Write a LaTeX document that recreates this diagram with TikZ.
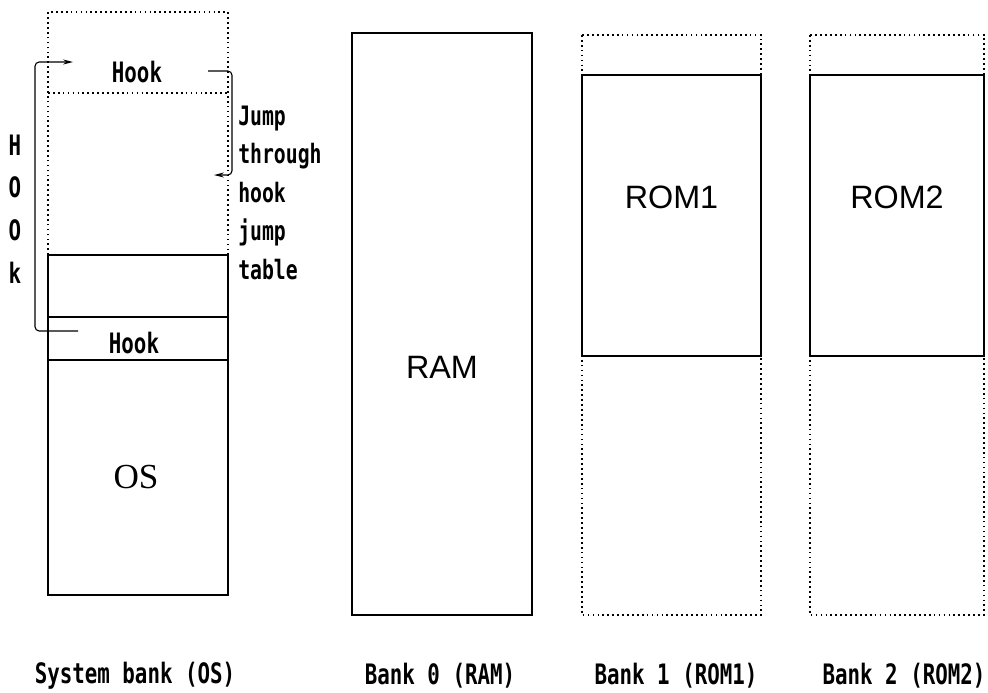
\documentclass[tikz,border=0pt]{standalone}
\usepackage{fontspec}
\setmainfont{Liberation Sans}
\newfontfamily\gothic[FakeStretch=0.74]{DejaVu Sans Mono}
\newfontfamily\romanos{Liberation Serif}
\usetikzlibrary{arrows.meta, positioning}

\begin{document}
\begin{tikzpicture}[
    x=0.025cm, y=-0.025cm,
    solidbox/.style={draw, line width=1pt},
    dotbox/.style={draw, line width=1.2pt, dash pattern=on 1.2pt off 2.3pt},
    big/.style={font=\fontsize{23}{25}\selectfont},
    lbl/.style={font=\gothic\bfseries\fontsize{20}{22}\selectfont},
    note/.style={font=\gothic\bfseries\fontsize{19}{21}\selectfont,
                 anchor=base west, inner xsep=0pt},
    hookline/.style={-{Stealth[length=7pt,width=3.5pt]}, line width=0.8pt,
                     rounded corners=3pt}
  ]
  \useasboundingbox (0,0) rectangle (988,692);

  % System bank
  \draw[dotbox] (48,255) -- (48,12) -- (228,12) -- (228,255);
  \draw[dotbox] (48,93) -- (228,93);
  \draw[solidbox] (48,255) rectangle (228,595);
  \draw[solidbox] (48,317) -- (228,317);
  \draw[solidbox] (48,360) -- (228,360);
  \node[lbl] (hooktop) at (137,72) {Hook};
  \node[lbl] (hookbot) at (134,343) {Hook};
  \node[font=\romanos\fontsize{25}{27}\selectfont] (os) at (136,477) {OS};

  \foreach \c [count=\i from 0] in {H,O,O,k} {
    \node[lbl] (vhook\i) at (15,145+\i*42.5) {\c};
  }
  \foreach \w [count=\i from 0] in {Jump,through,hook,jump,table} {
    \node[note] (jt\i) at (238,125+\i*38.5) {\w};
  }

  % Hook arrows
  \coordinate (hkfrom) at (78,331);
  \coordinate (hkto) at (73,62);
  \draw[hookline] (hkfrom) -| (35,62) -- (hkto);
  \coordinate (jmpfrom) at (208,71);
  \coordinate (jmpto) at (214,175);
  \draw[hookline] (jmpfrom) -| (232,175) -- (jmpto);

  % Bank 0
  \draw[solidbox] (352,33) rectangle (532,615);
  \node[big] (ram) at (442,367) {RAM};

  % Banks 1 and 2
  \foreach \n/\l/\r in {1/582/761, 2/810/984} {
    \draw[dotbox] (\l,35) rectangle (\r,615);
    \draw[solidbox, fill=white] (\l,75) rectangle (\r,356);
    \node[big] (rom\n) at ({(\l+\r)/2},197) {ROM\n};
  }

  % Captions
  \node[lbl] (capos)   at (135,676) {System bank (OS)};
  \node[lbl] (capram)  at (440,676) {Bank 0 (RAM)};
  \node[lbl] (caprom1) at (676,676) {Bank 1 (ROM1)};
  \node[lbl] (caprom2) at (904,676) {Bank 2 (ROM2)};
\end{tikzpicture}
\end{document}
